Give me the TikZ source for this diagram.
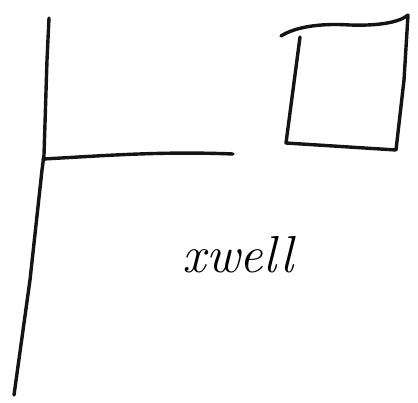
\documentclass[tikz,border=0pt]{standalone}
\begin{document}
\begin{tikzpicture}[x=1pt,y=-1pt,
  pen/.style={line width=3.4pt,line cap=round,line join=round,black!92},
  hand/.style={font=\fontsize{52}{52}\selectfont\itshape,inner sep=0pt}]
\useasboundingbox[fill=white] (0,0) rectangle (418,402);
% pole
\draw[pen] (49,18) -- (47,60) -- (44,155) -- (42,170) -- (30,280) -- (14,395);
% arm
\draw[pen] (43,159) .. controls (100,156) and (160,151) .. (233,154);
% square
\draw[pen] (281,36) .. controls (295,27) and (320,23) .. (350,25)
  .. controls (380,26) and (400,22) .. (408,15)
  -- (404,80) -- (396,150) -- (286,143) -- (293,90) -- (300,37);
\node[hand,anchor=base] (lbl) at (238,272) {xwell};
\end{tikzpicture}
\end{document}
